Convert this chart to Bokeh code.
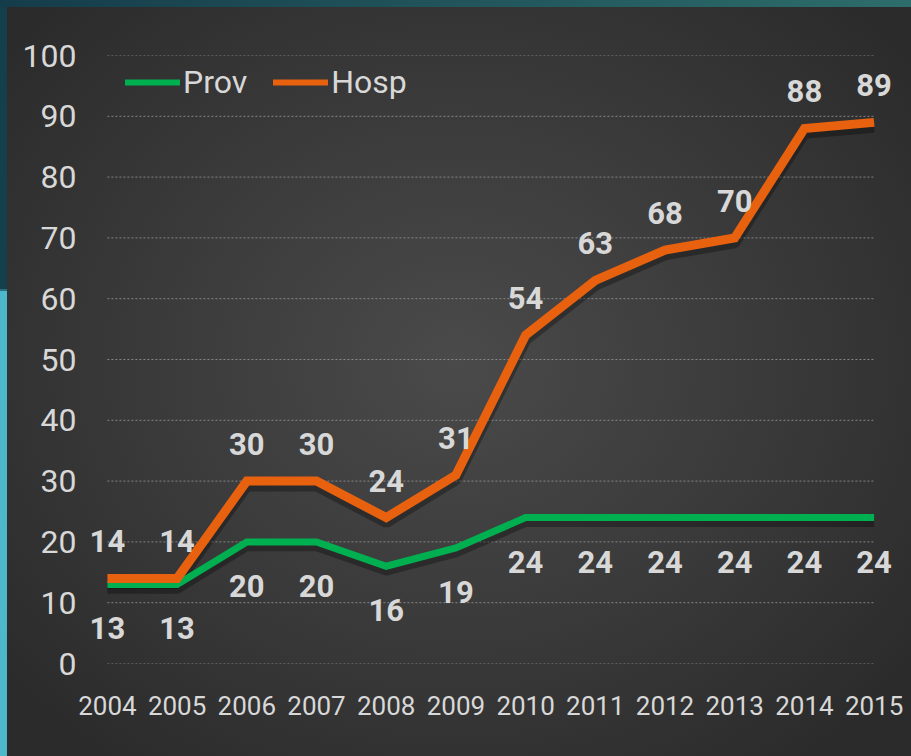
from bokeh.plotting import figure
from bokeh.models import (Range1d, FixedTicker, ColumnDataSource, LabelSet,
                          Legend, LegendItem, GlobalInlineStyleSheet)
from bokeh.core.properties import value
from bokeh.embed import file_html
from bokeh.resources import INLINE

years = [2004, 2005, 2006, 2007, 2008, 2009, 2010, 2011, 2012, 2013, 2014, 2015]
prov = [13, 13, 20, 20, 16, 19, 24, 24, 24, 24, 24, 24]
hosp = [14, 14, 30, 30, 24, 31, 54, 63, 68, 70, 88, 89]
y_ticks = [0, 10, 20, 30, 40, 50, 60, 70, 80, 90, 100]

GREEN = "#00b050"
ORANGE = "#e8610f"
TXT = "#d8d8d8"
NAN = float("nan")

page_css = """
html {
  background:
    linear-gradient(to right, #153c4b, #2d6d6b) 0 0 / 100% 7px no-repeat,
    linear-gradient(to bottom, #163f4e 0, #163f4e 289px, #2a6f7e 289px, #2a6f7e 291px, #4db8cc 291px) 0 0 / 7px 100% no-repeat,
    radial-gradient(ellipse at 50% 48%, #4a4a4a 0%, #3b3b3b 45%, #2b2b2b 90%);
  background-color: #2b2b2b;
  background-attachment: fixed;
  min-height: 100%;
}
body { background: transparent; margin: 0; overflow: hidden; }
"""

p = figure(width=905, height=745, output_backend="svg", toolbar_location=None,
           x_range=Range1d(2003.7, 2015.35), y_range=Range1d(0, 100),
           min_border_left=86, min_border_right=7, min_border_top=55, min_border_bottom=82)
p.stylesheets = [GlobalInlineStyleSheet(css=page_css)]
p.border_fill_color = None
p.background_fill_color = None
p.outline_line_color = None
p.extra_y_ranges = {"shadow": Range1d(0.8, 100.8)}

# axes
p.xaxis.ticker = FixedTicker(ticks=years)
p.yaxis.ticker = FixedTicker(ticks=y_ticks)
for ax in (p.xaxis[0], p.yaxis[0]):
    ax.axis_line_color = None
    ax.major_tick_line_color = None
    ax.minor_tick_line_color = None
    ax.major_tick_in = 0
    ax.major_tick_out = 0
    ax.major_label_text_color = TXT
    ax.major_label_text_font = "Roboto"
p.xaxis.major_label_text_font_size = "26px"
p.xaxis.major_label_standoff = 32
p.yaxis.major_label_text_font_size = "32px"
p.yaxis.major_label_standoff = 10

p.xgrid.grid_line_color = None
p.ygrid.grid_line_color = None

# dotted gridlines spanning the category extent
p.segment(x0=[years[0]] * len(y_ticks), x1=[years[-1]] * len(y_ticks),
          y0=y_ticks, y1=y_ticks, line_color="#9a9a9a", line_alpha=0.8,
          line_width=1, line_dash="2 2")

# shadows
p.line(years, prov, y_range_name="shadow", line_color="black", line_alpha=0.3, line_width=9)
p.line(years, hosp, y_range_name="shadow", line_color="black", line_alpha=0.3, line_width=11)

# series
p.line(years, prov, line_color=GREEN, line_width=7, line_join="miter")
p.line(years, hosp, line_color=ORANGE, line_width=9, line_join="miter")

# legend (thin glyphs, no visible data)
lg_prov = p.line([NAN, NAN], [NAN, NAN], line_color=GREEN, line_width=6, line_cap="round")
lg_hosp = p.line([NAN, NAN], [NAN, NAN], line_color=ORANGE, line_width=6, line_cap="round")
legend = Legend(items=[LegendItem(label="Prov", renderers=[lg_prov]),
                       LegendItem(label="Hosp", renderers=[lg_hosp])],
                orientation="horizontal", location=(39, 561),
                margin=0, padding=0, spacing=26, label_standoff=3,
                glyph_width=55, glyph_height=40,
                background_fill_alpha=0, border_line_alpha=0,
                label_text_font="Roboto", label_text_font_size="32px",
                label_text_color=TXT, label_text_baseline="middle")
p.add_layout(legend)

# data labels
src_h = ColumnDataSource(dict(x=years, y=hosp, t=[str(v) for v in hosp]))
src_p = ColumnDataSource(dict(x=years, y=prov, t=[str(v) for v in prov]))
for src, off in ((src_h, 37), (src_p, -44)):
    p.add_layout(LabelSet(x="x", y="y", text="t", source=src, y_offset=off,
                          text_align="center", text_baseline="middle",
                          text_font=value("Roboto"), text_font_style="bold",
                          text_font_size="31px", text_color=TXT))

open("out.html", "w").write(file_html(p, INLINE))
